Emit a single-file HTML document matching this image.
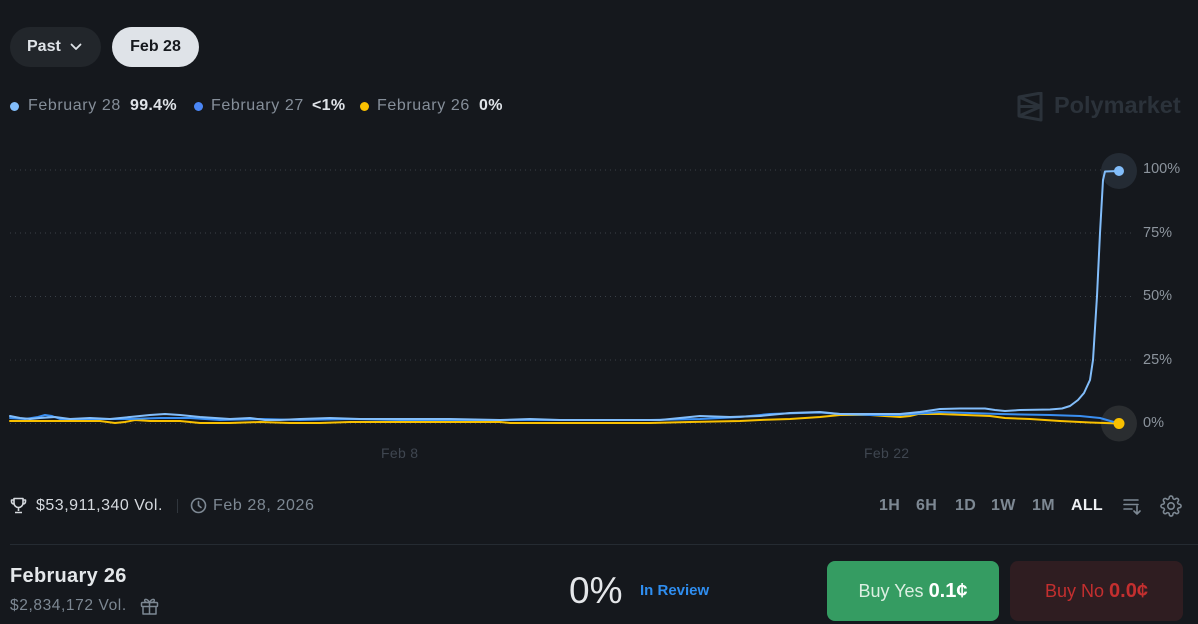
<!DOCTYPE html>
<html><head><meta charset="utf-8"><style>
*{margin:0;padding:0;box-sizing:border-box}
html,body{width:1198px;height:624px;background:#15181d;overflow:hidden;font-family:"Liberation Sans",Arial,sans-serif}
.abs{position:absolute;white-space:nowrap}
.btn{position:absolute;height:40px;border-radius:20px;font-size:16px;font-weight:bold;line-height:40px}
.leg{font-size:16px;color:#858e99;top:96px;line-height:20px;letter-spacing:0.6px}
.legb{font-size:16px;color:#dfe3e8;top:96px;line-height:20px;font-weight:bold;letter-spacing:0.3px}
.dot{position:absolute;width:9px;height:9px;border-radius:50%;top:102px}
.yl{font-size:14.5px;color:#8c949d;left:1143px}
.xl{font-size:14px;color:#3f4650;letter-spacing:0.3px}
.tf{font-size:16px;font-weight:bold;color:#7d8893;top:496px;line-height:20px;letter-spacing:0.3px}
</style></head><body>
<div class="btn" style="left:10px;top:27px;width:91px;background:#22262b;color:#dfe3e8;padding-left:17px">Past
<svg style="position:absolute;left:60px;top:15px" width="12" height="10" viewBox="0 0 12 10"><path d="M1.5 2.5 L6 7 L10.5 2.5" fill="none" stroke="#dfe3e8" stroke-width="1.8" stroke-linecap="round" stroke-linejoin="round"/></svg></div>
<div class="btn" style="left:112px;top:27px;width:87px;background:#dfe3e8;color:#15181d;text-align:center">Feb 28</div>

<div class="dot" style="left:10px;background:#82bdfa"></div>
<div class="abs leg" style="left:28px">February 28</div>
<div class="abs legb" style="left:130px">99.4%</div>
<div class="dot" style="left:194px;background:#4a86f5"></div>
<div class="abs leg" style="left:211px">February 27</div>
<div class="abs legb" style="left:312px">&lt;1%</div>
<div class="dot" style="left:360px;background:#f9c000"></div>
<div class="abs leg" style="left:377px">February 26</div>
<div class="abs legb" style="left:479px">0%</div>

<svg class="abs" style="left:1017px;top:92px" width="28" height="30" viewBox="0 0 28 30"><path d="M2 5 L24 1 L24 28 L2 24 Z M2 5 L24 14.5 L2 24 M2 14.5 L24 14.5" fill="none" stroke="#2b323a" stroke-width="3" stroke-linejoin="round"/></svg>
<div class="abs" style="left:1054px;top:92px;font-size:23.5px;font-weight:bold;color:#2b323a">Polymarket</div>

<svg class="abs" style="left:0;top:0" width="1198" height="480">
<g stroke="#3a4048" stroke-width="1" stroke-dasharray="1 4">
<line x1="10" y1="170" x2="1135" y2="170"/>
<line x1="10" y1="233" x2="1135" y2="233"/>
<line x1="10" y1="296.5" x2="1135" y2="296.5"/>
<line x1="10" y1="360" x2="1135" y2="360"/>
<line x1="10" y1="423.5" x2="1135" y2="423.5"/>
</g>
<circle cx="1119" cy="171" r="18" fill="#242b34"/>
<circle cx="1119" cy="423.5" r="18" fill="#2a2d30"/>
<g fill="none" stroke-width="2" stroke-linejoin="round" stroke-linecap="round">
<polyline stroke="#f9c000" points="10,421 50,421 80,421 100,421 115,423 125,422 135,420 150,421 180,421 200,423 230,423 260,422 290,423 320,423 350,422 400,422 450,422 500,422 510,423 550,423 600,423 650,423 690,422 740,421 760,420 790,419 820,417 840,415 870,415 900,417 910,416 918,414 940,414 990,416 1005,418 1030,419 1060,421 1090,422.5 1119,423.5"/>
<polyline stroke="#3a8ff2" points="10,418 25,419 38,417 45,415 52,416 60,419 90,419 130,419 160,418 190,418 220,420 260,419 300,420 350,419 400,420 500,420 600,420 650,420 700,419 740,417 770,414 800,413 820,412.5 840,414 870,415 900,415 940,412 970,413 1000,414 1050,415 1080,416 1100,418 1119,423.5"/>
<polyline stroke="#82bdfa" points="10,416 20,418 30,419 40,418 55,417 70,419 90,418 110,419 130,417 150,415 165,414 180,415 200,417 215,418 230,419 250,418 265,420 280,420 300,419 330,418 360,419 400,419 450,419 500,420 530,419 560,420 620,420 660,420 680,418 700,416 730,417 760,416 790,413 820,412 840,414 870,414 900,414 920,412 940,409 960,408.5 985,408.5 995,410 1005,411 1020,410 1050,409.5 1062,408.5 1070,406 1078,400 1084,393 1090,380 1093,360 1097,296 1100,233 1103,180 1105,171.5 1119,171"/>
</g>
<circle cx="1119" cy="171" r="5" fill="#82bdfa"/>
<circle cx="1119" cy="423.5" r="5.5" fill="#f9c000"/>
</svg>
<div class="abs yl" style="top:161px">100%</div>
<div class="abs yl" style="top:225px">75%</div>
<div class="abs yl" style="top:288px">50%</div>
<div class="abs yl" style="top:352px">25%</div>
<div class="abs yl" style="top:415px">0%</div>
<div class="abs xl" style="left:381px;top:445px">Feb 8</div>
<div class="abs xl" style="left:864px;top:445px">Feb 22</div>

<svg class="abs" style="left:10px;top:497px" width="17" height="17" viewBox="0 0 17 17"><path d="M4 1.5 H13 V6 A4.5 4.5 0 0 1 4 6 Z M4 3 H1.5 V4.5 A2.5 2.5 0 0 0 4 7 M13 3 H15.5 V4.5 A2.5 2.5 0 0 1 13 7 M8.5 10.5 V14 M5 15.5 H12" fill="none" stroke="#d5d9de" stroke-width="1.6" stroke-linejoin="round"/></svg>
<div class="abs" style="left:36px;top:496px;font-size:16px;color:#d5d9de;line-height:20px;letter-spacing:0.5px">$53,911,340 Vol.</div>
<div class="abs" style="left:177px;top:499px;width:1px;height:14px;background:#30363d"></div>
<svg class="abs" style="left:190px;top:497px" width="17" height="17" viewBox="0 0 17 17"><circle cx="8.5" cy="8.5" r="7" fill="none" stroke="#7d8893" stroke-width="1.6"/><path d="M8.5 4.5 V8.5 L11 10.5" fill="none" stroke="#7d8893" stroke-width="1.6" stroke-linecap="round"/></svg>
<div class="abs" style="left:213px;top:496px;font-size:16px;color:#7d8893;line-height:20px;letter-spacing:0.6px">Feb 28, 2026</div>

<div class="abs tf" style="left:879px">1H</div>
<div class="abs tf" style="left:916px">6H</div>
<div class="abs tf" style="left:955px">1D</div>
<div class="abs tf" style="left:991px">1W</div>
<div class="abs tf" style="left:1032px">1M</div>
<div class="abs tf" style="left:1071px;color:#eef0f3">ALL</div>
<svg class="abs" style="left:1123px;top:496px" width="20" height="20" viewBox="0 0 20 20"><path d="M1 4 H15 M1 8.5 H15 M1 13 H9 M14 10 V18 M11 15 L14 18 L17 15" fill="none" stroke="#7d8893" stroke-width="1.6" stroke-linecap="round" stroke-linejoin="round"/></svg>
<svg class="abs" style="left:1160px;top:495px" width="22" height="22" viewBox="0 0 24 24"><path d="M12 15.5a3.5 3.5 0 1 0 0-7 3.5 3.5 0 0 0 0 7z" fill="none" stroke="#7d8893" stroke-width="1.7"/><path d="M19.4 15a1.650 1.65 0 0 0 .33 1.82l.06.06a2 2 0 1 1-2.83 2.830l-.06-.06a1.65 1.65 0 0 0-1.82-.33 1.65 1.65 0 0 0-1 1.51V21a2 2 0 1 1-4 0v-.09A1.65 1.65 0 0 0 9 19.4a1.65 1.65 0 0 0-1.82.33l-.06.06a2 2 0 1 1-2.83-2.83l.06-.06a1.65 1.65 0 0 0 .33-1.82 1.65 1.65 0 0 0-1.51-1H3a2 2 0 1 1 0-4h.09A1.65 1.65 0 0 0 4.6 9a1.65 1.65 0 0 0-.33-1.82l-.06-.06a2 2 0 1 1 2.83-2.83l.06.06a1.65 1.65 0 0 0 1.82.33H9a1.65 1.65 0 0 0 1-1.51V3a2 2 0 1 1 4 0v.09a1.65 1.65 0 0 0 1 1.51 1.65 1.65 0 0 0 1.82-.33l.06-.06a2 2 0 1 1 2.83 2.830l-.06.06a1.65 1.65 0 0 0-.33 1.82V9a1.65 1.65 0 0 0 1.51 1H21a2 2 0 1 1 0 4h-.09a1.65 1.65 0 0 0-1.51 1z" fill="none" stroke="#7d8893" stroke-width="1.7"/></svg>

<div class="abs" style="left:10px;top:544px;width:1188px;height:1px;background:#252b32"></div>

<div class="abs" style="left:10px;top:564px;font-size:20px;font-weight:bold;color:#e4e7ea;line-height:24px;letter-spacing:0.3px">February 26</div>
<div class="abs" style="left:10px;top:597px;font-size:15.5px;color:#7d8893;line-height:18px;letter-spacing:0.6px">$2,834,172 Vol.</div>
<svg class="abs" style="left:140px;top:597px" width="19" height="19" viewBox="0 0 19 19"><rect x="1.5" y="5.5" width="16" height="4" rx="1" fill="none" stroke="#7d8893" stroke-width="1.5"/><path d="M3 9.5 V17 H16 V9.5 M9.5 5.5 V17 M9.5 5.5 C7 1 3.5 2 5 4.5 C6 5.5 9.5 5.5 9.5 5.5 C12 1 15.5 2 14 4.5 C13 5.5 9.5 5.5 9.5 5.5" fill="none" stroke="#7d8893" stroke-width="1.5" stroke-linejoin="round"/></svg>

<div class="abs" style="left:569px;top:570px;font-size:37px;color:#e4e6e9;line-height:42px">0%</div>
<div class="abs" style="left:640px;top:582px;font-size:15px;font-weight:bold;color:#2f8ef0;line-height:18px">In Review</div>

<div class="abs" style="left:827px;top:561px;width:172px;height:60px;border-radius:8px;background:#359c62;text-align:center;line-height:60px;font-size:18px;color:#dcefe2">Buy Yes <b style="color:#fff;font-size:20px">0.1¢</b></div>
<div class="abs" style="left:1010px;top:561px;width:173px;height:60px;border-radius:8px;background:#2f1d21;text-align:center;line-height:60px;font-size:18px;color:#c42f2f">Buy No <b style="font-size:20px">0.0¢</b></div>
</body></html>
